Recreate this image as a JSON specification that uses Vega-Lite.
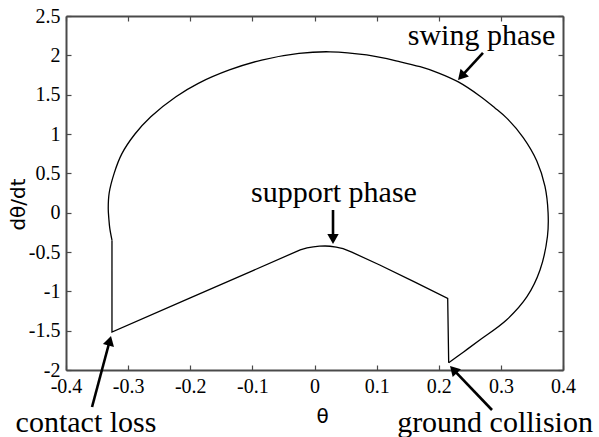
{
  "$schema": "https://vega.github.io/schema/vega-lite/v6.json",
  "width": 497,
  "height": 354,
  "autosize": {"type": "none"},
  "padding": {"left": 66, "top": 16, "right": 36, "bottom": 67},
  "background": "white",
  "config": {
    "view": {"stroke": null},
    "axis": {
      "grid": false,
      "domainColor": "#4a4a4a",
      "domainWidth": 2,
      "tickColor": "#4a4a4a",
      "tickWidth": 1.2,
      "tickSize": -5,
      "labelFont": "Liberation Serif",
      "labelFontSize": 20,
      "labelColor": "#000000",
      "titleFont": "DejaVu Sans",
      "titleFontSize": 20,
      "titleFontWeight": "normal",
      "titleColor": "#000000"
    }
  },
  "datasets": {
    "swing": [
      {"i": 0, "t": -0.326, "v": -0.35},
      {"i": 1, "t": -0.3295, "v": -0.2},
      {"i": 2, "t": -0.331, "v": -0.08},
      {"i": 3, "t": -0.332, "v": 0.05},
      {"i": 4, "t": -0.3305, "v": 0.25},
      {"i": 5, "t": -0.3225, "v": 0.5},
      {"i": 6, "t": -0.31, "v": 0.75},
      {"i": 7, "t": -0.289, "v": 1.0},
      {"i": 8, "t": -0.2635, "v": 1.22},
      {"i": 9, "t": -0.223, "v": 1.474},
      {"i": 10, "t": -0.187, "v": 1.644},
      {"i": 11, "t": -0.137, "v": 1.814},
      {"i": 12, "t": -0.085, "v": 1.94},
      {"i": 13, "t": -0.025, "v": 2.025},
      {"i": 14, "t": 0.025, "v": 2.045},
      {"i": 15, "t": 0.084, "v": 2.005},
      {"i": 16, "t": 0.138, "v": 1.918},
      {"i": 17, "t": 0.17, "v": 1.855},
      {"i": 18, "t": 0.2, "v": 1.775},
      {"i": 19, "t": 0.2315, "v": 1.662},
      {"i": 20, "t": 0.266, "v": 1.484},
      {"i": 21, "t": 0.29, "v": 1.335},
      {"i": 22, "t": 0.309, "v": 1.205},
      {"i": 23, "t": 0.336, "v": 0.955},
      {"i": 24, "t": 0.358, "v": 0.655},
      {"i": 25, "t": 0.371, "v": 0.335},
      {"i": 26, "t": 0.376, "v": 0.0},
      {"i": 27, "t": 0.375, "v": -0.3},
      {"i": 28, "t": 0.363, "v": -0.729},
      {"i": 29, "t": 0.342, "v": -1.068},
      {"i": 30, "t": 0.309, "v": -1.364},
      {"i": 31, "t": 0.266, "v": -1.619},
      {"i": 32, "t": 0.24, "v": -1.77},
      {"i": 33, "t": 0.216, "v": -1.907}
    ],
    "stance": [
      {"i": 0, "t": 0.216, "v": -1.907},
      {"i": 1, "t": 0.2144, "v": -1.089},
      {"i": 2, "t": 0.16, "v": -0.876},
      {"i": 3, "t": 0.105, "v": -0.665},
      {"i": 4, "t": 0.06, "v": -0.502},
      {"i": 5, "t": 0.046, "v": -0.458},
      {"i": 6, "t": 0.035, "v": -0.437},
      {"i": 7, "t": 0.025, "v": -0.427},
      {"i": 8, "t": 0.017, "v": -0.424},
      {"i": 9, "t": 0.008, "v": -0.426},
      {"i": 10, "t": -0.002, "v": -0.434},
      {"i": 11, "t": -0.012, "v": -0.447},
      {"i": 12, "t": -0.023, "v": -0.473},
      {"i": 13, "t": -0.1, "v": -0.739},
      {"i": 14, "t": -0.2, "v": -1.083},
      {"i": 15, "t": -0.326, "v": -1.517},
      {"i": 16, "t": -0.326, "v": -0.35}
    ],
    "arrows": [
      {"name": "swing", "x0": 0.2712, "y0": 2.03, "x1": 0.2364, "y1": 1.7326},
      {"name": "support", "x0": 0.0298, "y0": 0.0339, "x1": 0.0298, "y1": -0.3355},
      {"name": "contact", "x0": -0.3581, "y0": -2.4703, "x1": -0.3296, "y1": -1.6285},
      {"name": "ground", "x0": 0.2857, "y0": -2.5085, "x1": 0.2236, "y1": -1.9946}
    ],
    "labels": [
      {"label": "swing phase", "x": 0.2688, "y": 2.131},
      {"label": "support phase", "x": 0.0314, "y": 0.136},
      {"label": "contact loss", "x": -0.3678, "y": -2.788},
      {"label": "ground collision", "x": 0.2906, "y": -2.788}
    ]
  },
  "resolve": {"axis": {"x": "independent", "y": "independent"}},
  "layer": [
    {
      "data": {"name": "swing"},
      "mark": {"type": "line", "interpolate": "catmull-rom", "color": "#000000", "strokeWidth": 1.3},
      "encoding": {
        "x": {"field": "t", "type": "quantitative",
              "scale": {"domain": [-0.4, 0.4], "nice": false, "zero": false},
              "axis": {"orient": "bottom", "values": [-0.4, -0.3, -0.2, -0.1, 0, 0.1, 0.2, 0.3, 0.4],
                       "labelExpr": "'' + datum.value", "labelPadding": 11, "labelFlush": false, "labelOverlap": false,
                       "title": "θ", "titleX": 256, "titleY": 46, "titleBaseline": "middle", "titleAlign": "center"}},
        "y": {"field": "v", "type": "quantitative",
              "scale": {"domain": [-2, 2.5], "nice": false, "zero": false},
              "axis": {"orient": "left", "values": [-2, -1.5, -1, -0.5, 0, 0.5, 1, 1.5, 2, 2.5],
                       "labelExpr": "'' + datum.value", "labelPadding": 11, "labelFlush": false, "labelOverlap": false,
                       "title": "dθ/dt", "titleX": -48, "titleY": 188, "titleAngle": -90, "titleBaseline": "middle", "titleAlign": "center"}},
        "order": {"field": "i", "type": "quantitative"}
      }
    },
    {
      "data": {"name": "stance"},
      "mark": {"type": "line", "interpolate": "linear", "color": "#000000", "strokeWidth": 1.3},
      "encoding": {
        "x": {"field": "t", "type": "quantitative",
              "scale": {"domain": [-0.4, 0.4], "nice": false, "zero": false},
              "axis": {"orient": "top", "values": [-0.4, -0.3, -0.2, -0.1, 0, 0.1, 0.2, 0.3, 0.4], "labels": false, "title": null}},
        "y": {"field": "v", "type": "quantitative",
              "scale": {"domain": [-2, 2.5], "nice": false, "zero": false},
              "axis": {"orient": "right", "values": [-2, -1.5, -1, -0.5, 0, 0.5, 1, 1.5, 2, 2.5], "labels": false, "title": null}},
        "order": {"field": "i", "type": "quantitative"}
      }
    },
    {
      "data": {"name": "arrows"},
      "mark": {"type": "rule", "color": "#000000", "strokeWidth": 2.6},
      "encoding": {
        "x": {"field": "x0", "type": "quantitative", "scale": {"domain": [-0.4, 0.4], "nice": false, "zero": false}, "axis": null},
        "y": {"field": "y0", "type": "quantitative", "scale": {"domain": [-2, 2.5], "nice": false, "zero": false}, "axis": null},
        "x2": {"field": "x1"},
        "y2": {"field": "y1"}
      }
    },
    {
      "data": {"name": "arrows"},
      "transform": [{"filter": "datum.name === 'swing'"}],
      "mark": {"type": "point", "shape": "triangle-up", "filled": true, "size": 130, "color": "#000000", "opacity": 1, "angle": 222.8},
      "encoding": {
        "x": {"field": "x1", "type": "quantitative", "scale": {"domain": [-0.4, 0.4], "nice": false, "zero": false}, "axis": null},
        "y": {"field": "y1", "type": "quantitative", "scale": {"domain": [-2, 2.5], "nice": false, "zero": false}, "axis": null}
      }
    },
    {
      "data": {"name": "arrows"},
      "transform": [{"filter": "datum.name === 'support'"}],
      "mark": {"type": "point", "shape": "triangle-up", "filled": true, "size": 130, "color": "#000000", "opacity": 1, "angle": 180},
      "encoding": {
        "x": {"field": "x1", "type": "quantitative", "scale": {"domain": [-0.4, 0.4], "nice": false, "zero": false}, "axis": null},
        "y": {"field": "y1", "type": "quantitative", "scale": {"domain": [-2, 2.5], "nice": false, "zero": false}, "axis": null}
      }
    },
    {
      "data": {"name": "arrows"},
      "transform": [{"filter": "datum.name === 'contact'"}],
      "mark": {"type": "point", "shape": "triangle-up", "filled": true, "size": 130, "color": "#000000", "opacity": 1, "angle": 15},
      "encoding": {
        "x": {"field": "x1", "type": "quantitative", "scale": {"domain": [-0.4, 0.4], "nice": false, "zero": false}, "axis": null},
        "y": {"field": "y1", "type": "quantitative", "scale": {"domain": [-2, 2.5], "nice": false, "zero": false}, "axis": null}
      }
    },
    {
      "data": {"name": "arrows"},
      "transform": [{"filter": "datum.name === 'ground'"}],
      "mark": {"type": "point", "shape": "triangle-up", "filled": true, "size": 130, "color": "#000000", "opacity": 1, "angle": 316.3},
      "encoding": {
        "x": {"field": "x1", "type": "quantitative", "scale": {"domain": [-0.4, 0.4], "nice": false, "zero": false}, "axis": null},
        "y": {"field": "y1", "type": "quantitative", "scale": {"domain": [-2, 2.5], "nice": false, "zero": false}, "axis": null}
      }
    },
    {
      "data": {"name": "labels"},
      "mark": {"type": "text", "font": "Liberation Serif", "fontSize": 30, "align": "center", "baseline": "alphabetic", "color": "#000000"},
      "encoding": {
        "x": {"field": "x", "type": "quantitative", "scale": {"domain": [-0.4, 0.4], "nice": false, "zero": false}, "axis": null},
        "y": {"field": "y", "type": "quantitative", "scale": {"domain": [-2, 2.5], "nice": false, "zero": false}, "axis": null},
        "text": {"field": "label", "type": "nominal"}
      }
    }
  ]
}
